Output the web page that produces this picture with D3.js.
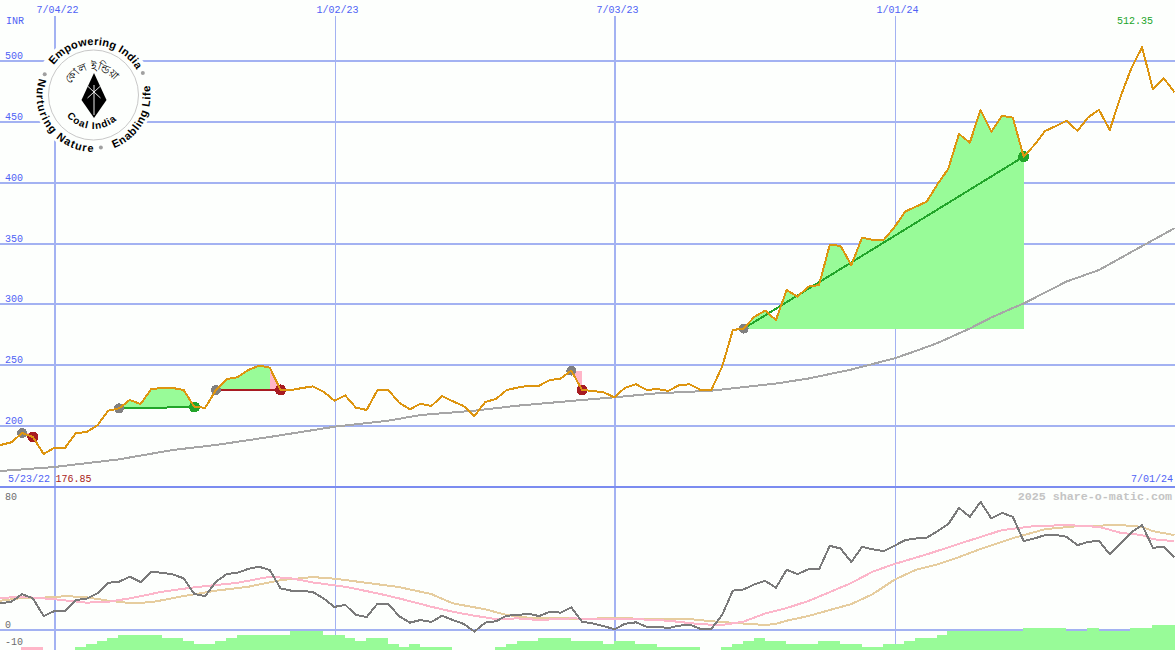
<!DOCTYPE html>
<html>
<head>
<meta charset="utf-8">
<script src="https://cdn.jsdelivr.net/npm/d3@7/dist/d3.min.js"></script>
<style>
html,body{margin:0;padding:0;background:#fdfffd;overflow:hidden}
svg{display:block}
text{font-family:"Liberation Mono",monospace;font-size:10px}
</style>
</head>
<body>
<svg id="c" width="1175" height="650"></svg>
<script>
// ---- data ----
const firstWeek = -6; // weeks relative to 7/04/22
const price = [183.6,184.4,186.6,194.2,191,177,182.2,182.2,194.2,195,200.6,212.6,214.5,221.4,218,230.4,231.2,231.2,229.6,215.6,215,229.6,238.6,240,246,249.6,248,229.6,229.6,231.2,232.6,228.2,220.8,225.2,215,213.2,229.6,229.6,219.3,213.7,218.3,216.4,224.7,220.3,216.4,208.2,219.7,222.2,229.6,231.5,233.1,233.1,237.8,238.9,245.5,229.6,228.8,227.7,223.6,231.5,234.3,229.6,230.4,228.8,233.5,234.3,229.6,229.6,248.7,278.9,280.1,289.8,294.8,287.1,311.8,306.3,314.5,315.9,349,348,332.3,354.8,352.9,352.9,363.3,376.2,380.3,384.4,398.7,411.3,440,432.9,459.8,441.9,455,453.4,421.4,431,442.5,446.6,451,442.5,453.8,459.8,443.3,470.7,494,511.3,477,486,474.3];
const longMaWeeks = [-6,-5,0,6,11,15,20,26,31,34,39,43,48,52,56,61,67,70,74,78,80,82,85,87,89,90,94,97,100,104];
const longMaValues = [162.5,163,166.3,172.6,180.3,184.4,191,199.4,204.4,209,212.6,216.7,220.6,223.6,226.9,229,234.9,239,246.4,255.6,261.7,268.2,280.1,289.2,297,300.7,318.8,328.2,343,362.5];
const osc = [14.5,14.9,15.8,20.1,17.7,7.8,10.6,10.6,16.8,17.5,20.5,26.4,27,29.8,26.8,32.6,32,31.1,28.9,20.1,19,27,31.3,32,34.2,35.4,33.5,23.3,22,22,21.2,17.7,12.9,14.1,8.4,7.3,14.7,14.7,7.8,4.1,5.6,4.5,8,5.6,3.4,-0.9,4.1,4.9,8,8.4,9.1,7.8,10.2,9.7,12.7,4.6,3.7,2.2,0.4,3.5,4.3,1.8,1.8,1.1,2.4,3,0.6,0.6,8.4,22,22.7,25.5,27.5,23.6,33.7,31.3,33.9,33.9,47.1,45.6,38,46.5,45.1,44.1,47.1,50.3,51.2,51.6,55.3,59.2,68.3,63.3,71.7,62.4,65.5,63.3,49.7,51.2,53.1,53.2,52.1,47.5,49.3,49.9,42.3,48.4,54.6,58.7,46,46.5,40.6];
const pinkWeeks = [-6,-5,-3,0,3,5,7,10,13,17,20,22,24,27,30,32,35,37,39,41,43,45,48,51,54,57,60,62,64,66,68,70,72,74,76,78,81,84,88,91,94,97,99,101,102,104];
const pinkValues = [17.8,17.9,18.6,17.2,15.3,15.8,17.7,21.4,23.9,26.4,29.8,28.9,26.6,24.2,20.5,17.7,13,10.2,8,6.1,6.5,5.6,6.5,6.1,6.1,5.2,3.2,2.8,4.7,9.2,12.3,16.2,21.2,26.3,32.7,36.9,42.3,48.2,55.9,58.1,58.7,57.7,54.4,53.1,50.8,49.7];
const tanWeeks = [-6,-5,-3,0,1,3,5,7,9,12,15,18,21,24,26,29,32,35,37,40,42,44,47,49,52,55,59,61,64,66,67,68,70,72,74,76,78,80,82,84,86,89,92,95,99,101,102,104];
const tanValues = [16,16.4,17.9,18.3,19,18.3,16.4,15.1,15.5,19,22,24.2,27.9,29.6,28.7,26.4,24,20.1,14.9,11.6,8.4,6.9,6.7,6,6.9,6.1,6.1,4.9,3.6,2.8,3.4,5.2,7.8,11.2,14.5,20.1,28.1,33.7,36.7,40.8,45.3,51.4,56.4,58.1,58.7,57.7,55.3,53.1];
const hist = [null,null,null,-9.5,-9.5,null,null,null,-9.5,-7.8,-6.1,-4.5,-2.8,-2.8,-2.8,-2.8,-4.5,-4.5,-6.1,-7.8,-7.8,-6.1,-4.5,-2.8,-2.8,-2.8,-2.8,-2.8,-0.8,-0.8,-0.8,-2.8,-2.8,-4.5,-6.1,-4.5,-4.5,-7.8,-9.5,-7.8,-9.5,-9.5,-9.5,null,null,null,null,-9.5,-7.8,-6.1,-6.1,-4.5,-4.5,-4.5,-6.1,-6.1,-6.1,-7.8,-6.1,-6.1,-7.8,-7.8,-9.5,-9.5,-9.5,-9.5,null,null,-9.5,-7.8,-6.1,-4.5,-6.1,-6.1,-7.8,-7.8,-7.8,-6.1,-6.1,-7.8,-7.8,-9.5,-9.5,-7.8,-7.8,-6.1,-4.5,-4.5,-2.8,-0.8,-0.8,-0.8,-0.8,-0.8,-0.8,-0.8,1.1,1.1,1.1,1.1,-0.8,-0.8,1.1,-0.8,-0.8,-0.8,1.1,1.1,2.8,2.8,2.8];
const histPinkWeeks = [-3,-2];
const tradeEntryWeeks = [-3,6,15,48,64];
const tradeExitWeeks = [-2,13,21,49,90];
const tradeWon = [false,true,false,false,true];
const priceTicks = [500,450,400,350,300,250,200];
const dateTickWeeks = [0,26,52,78];
const dateTickLabels = ["7/04/22","1/02/23","7/03/23","1/01/24"];
const oscTicks = [80,0];
const currency = "INR";
const startLabel = "5/23/22", endLabel = "7/01/24", lowLabel = "176.85", highLabel = "512.35";
const creditLabel = "2025 share-o-matic.com";
const bottomTick = "-10";

// ---- scales ----
const W = 1175, H = 650;
const x = d3.scaleLinear().domain([0,104]).range([54.4,1174.4]);
const y = d3.scaleLinear().domain([200,500]).range([426,61]);
const yLow = d3.scaleLinear().domain([0,80]).range([630,487]);
const weeks = d3.range(firstWeek, firstWeek + price.length);
const priceAt = k => price[k - firstWeek];

const gridC = "#a3b2f2", frameC = "#7b8cf0", blue = "#4f62f5", greyT = "#6e6e6e";
const svg = d3.select("#c");
svg.append("rect").attr("width",W).attr("height",H).attr("fill","#fdfffd");

// ---- grid (library axes) ----
const gx = svg.append("g").attr("transform","translate(0.6,16)")
  .call(d3.axisBottom(x).offset(0).tickValues(dateTickWeeks).tickSize(634).tickFormat((d,i)=>dateTickLabels[i]));
gx.select(".domain").remove();
gx.selectAll("line").attr("stroke",gridC).attr("shape-rendering","crispEdges")
  .attr("stroke-width",(d,i)=>i%2===0?2:1);
gx.selectAll("text").attr("y",-4).attr("dy",0.5).attr("dx",2.5).attr("fill",blue).attr("text-anchor","middle");

const gy = svg.append("g")
  .call(d3.axisRight(y).offset(0).tickValues(priceTicks).tickSize(W));
gy.select(".domain").remove();
gy.selectAll("line").attr("stroke",gridC).attr("stroke-width",2).attr("shape-rendering","crispEdges");
gy.selectAll("text").attr("x",5).attr("dy",-2).attr("fill",blue);

const gl = svg.append("g")
  .call(d3.axisRight(yLow).offset(0).tickValues(oscTicks).tickSize(W).tickFormat(d3.format("d")));
gl.select(".domain").remove();
gl.selectAll("line").attr("stroke",d=>d===80?frameC:gridC).attr("stroke-width",2).attr("shape-rendering","crispEdges");
gl.selectAll("text").attr("x",5).attr("fill",greyT).attr("dy",d=>d===80?12.5:-2);

// ---- trade fills ----
const area = (level) => d3.area().x(k=>x(k)).y0(y(level)).y1(k=>y(priceAt(k)));
tradeEntryWeeks.forEach((e,i)=>{
  const ex = tradeExitWeeks[i], level = priceAt(e);
  const span = d3.range(e, ex+1);
  const greenSpan = tradeWon[i] ? span : span.slice(0,-1);
  if (greenSpan.length>1) svg.append("path").attr("d",area(level)(greenSpan)).attr("fill","#98fb98").attr("shape-rendering","crispEdges");
  if (!tradeWon[i]) svg.append("path").attr("d",area(level)(span.slice(-2))).attr("fill","#ffb6c8").attr("shape-rendering","crispEdges");
});

// ---- long moving average ----
const lineOf = (sy) => d3.line().x(d=>x(d[0])).y(d=>sy(d[1]));
const pairs = (a,b) => a.map((k,i)=>[k,b[i]]);
const stroke = (data,sy,c,w) => svg.append("path").attr("d",lineOf(sy)(data)).attr("fill","none")
  .attr("stroke",c).attr("stroke-width",w).attr("stroke-linejoin","round").attr("shape-rendering","crispEdges");
stroke(pairs(longMaWeeks,longMaValues),y,"#a6a6a6",2);

// ---- trade lines & dots ----
tradeEntryWeeks.forEach((e,i)=>{
  const ex = tradeExitWeeks[i];
  const col = tradeWon[i] ? "#22a52a" : "#a81c22";
  stroke([[e,priceAt(e)],[ex,priceAt(ex)]],y,col,2);
  svg.append("circle").attr("cx",x(e)).attr("cy",y(priceAt(e))).attr("r",5).attr("fill","#808080").attr("shape-rendering","crispEdges");
  svg.append("circle").attr("cx",x(ex)).attr("cy",y(priceAt(ex))).attr("r",5.5).attr("fill",col).attr("shape-rendering","crispEdges");
});

// ---- price line ----
stroke(weeks.map(k=>[k,priceAt(k)]),y,"#dd9510",2);

// ---- lower panel ----
const bw = x(1)-x(0);
svg.append("g").selectAll("rect").data(weeks.filter(k=>hist[k-firstWeek]!==null)).join("rect")
  .attr("x",k=>x(k)-0.9).attr("width",bw+0.4)
  .attr("y",k=>yLow(hist[k-firstWeek]))
  .attr("height",k=>H-yLow(hist[k-firstWeek]))
  .attr("fill",k=>histPinkWeeks.includes(k)?"#ffb6c8":"#98fb98")
  .attr("shape-rendering","crispEdges");
stroke(pairs(tanWeeks,tanValues),yLow,"#e6cd9f",2);
stroke(pairs(pinkWeeks,pinkValues),yLow,"#fcb6ca",2);
stroke(weeks.map(k=>[k,osc[k-firstWeek]]),yLow,"#7a7a7a",2);

// ---- labels ----
const label=(t,px,py,c,extra)=>{const n=svg.append("text").attr("x",px).attr("y",py).attr("fill",c).text(t);if(extra)extra(n);return n;};
label(currency,6,24,blue);
label(startLabel,8,482,blue);
label(lowLabel,55.5,482,"#a81c22");
label(endLabel,1131,482,blue);
label(highLabel,1117,24,"#22a52a");
label(bottomTick,5,645,greyT);
label(creditLabel,1172,500,"#c4c4c4",n=>n.attr("text-anchor","end").style("font-size","11.7px").style("font-weight","bold"));

// ---- logo ----
const cx=93.5, cy=95;
const logo = svg.append("g").attr("transform",`translate(${cx},${cy})`);
logo.append("circle").attr("r",60).attr("fill","#fdfffd");
logo.append("circle").attr("r",45).attr("fill","none").attr("stroke","#c8c8c8").attr("stroke-width",1);
const pt=(r,deg)=>[r*Math.sin(deg*Math.PI/180),-r*Math.cos(deg*Math.PI/180)];
const arcPath=(r,a0,a1,sweep)=>{const p=pt(r,a0),q=pt(r,a1);const large=Math.abs(a1-a0)>180?1:0;return `M${p[0]},${p[1]}A${r},${r} 0 ${large} ${sweep} ${q[0]},${q[1]}`;};
const defs=svg.append("defs");
const arcText=(id,t,r,a0,a1,sweep,size,bold,len,fam)=>{
  defs.append("path").attr("id",id).attr("d",arcPath(r,a0,a1,sweep)).attr("transform",`translate(${cx},${cy})`);
  const tx=svg.append("text").attr("fill","#000").style("font-family",fam||'"Liberation Sans",sans-serif').style("font-size",size+"px").style("font-weight",bold?"bold":"normal");
  const tp=tx.append("textPath").attr("href","#"+id).text(t);
  if(len) tp.attr("textLength",len).attr("lengthAdjust","spacing");
};
arcText("a1","Empowering India",50,-53,60,1,11,true,98);
arcText("a2","Nurturing Nature",57,-73,-181,0,11,true,106);
arcText("a3","Enabling Life",57,159,80,0,11,true,78);
arcText("a4","Coal India",34,232,128,0,10,true,56);
arcText("a5","কোল ইন্ডিয়া",25,-66,66,1,11,false,null,'"Noto Sans","Noto Sans CJK SC",sans-serif');
[[-67,53],[66,54],[172,53]].forEach(([a,r])=>{const p=pt(r,a);logo.append("circle").attr("cx",p[0]).attr("cy",p[1]).attr("r",2).attr("fill","#a0a0a0");});
logo.append("path").attr("d","M0.5,-22L13,5L0.5,23L-12,5Z").attr("fill","#000");
logo.append("path").attr("d","M0.5,-10L0.5,20M-6,-9L7,3M7,-9L-6,3").attr("stroke","#e8e8e8").attr("stroke-width",1).attr("fill","none");
</script>
</body>
</html>
